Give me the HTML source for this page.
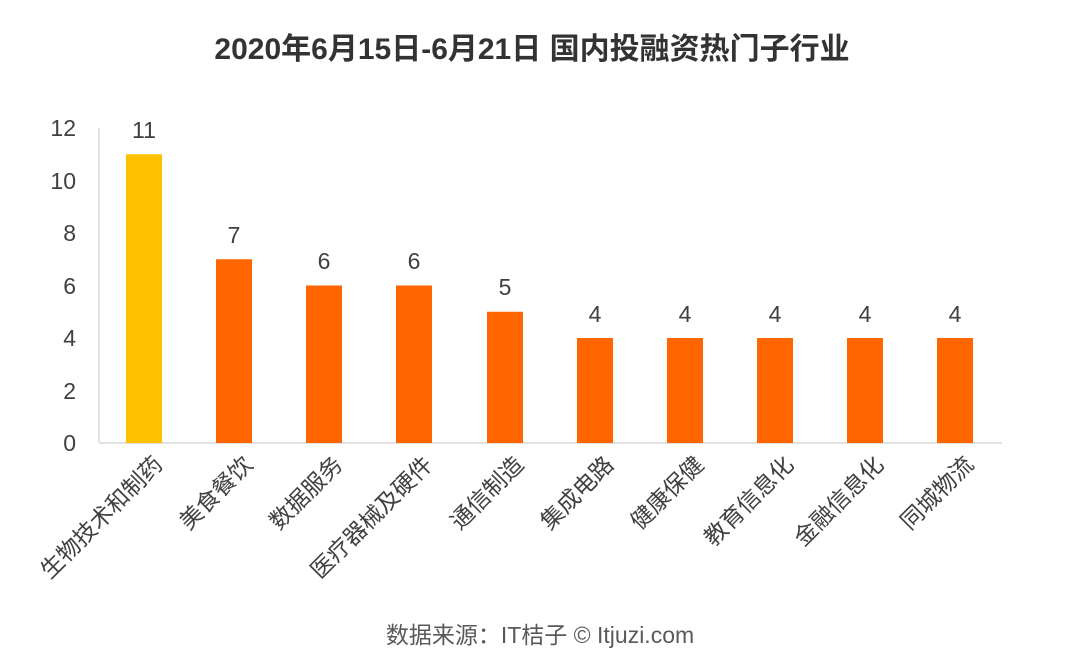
<!DOCTYPE html><html><head><meta charset="utf-8"><style>
body{margin:0;background:#fff}
svg text{font-family:"Liberation Sans","Noto Sans CJK SC",sans-serif}
</style></head><body>
<svg width="1080" height="659" viewBox="0 0 1080 659" xmlns="http://www.w3.org/2000/svg">
<rect width="1080" height="659" fill="#fff"/>
<text x="532" y="59" text-anchor="middle" font-size="30" font-weight="bold" fill="#333">2020年6月15日-6月21日 国内投融资热门子行业</text>
<line x1="99" y1="128" x2="99" y2="443" stroke="#d9d9d9" stroke-width="1.5"/>
<line x1="99" y1="443" x2="1002" y2="443" stroke="#d9d9d9" stroke-width="1.5"/>
<g font-size="23" fill="#404040" text-anchor="end">
<text x="76" y="451">0</text><text x="76" y="399">2</text><text x="76" y="346">4</text><text x="76" y="294">6</text><text x="76" y="241">8</text><text x="76" y="189">10</text><text x="76" y="136">12</text>
</g>
<rect x="126" y="154.25" width="36" height="288.75" fill="#ffc000"/>
<g fill="#ff6600">
<rect x="216" y="259.25" width="36" height="183.75"/>
<rect x="306" y="285.5" width="36" height="157.5"/>
<rect x="396" y="285.5" width="36" height="157.5"/>
<rect x="487" y="311.75" width="36" height="131.25"/>
<rect x="577" y="338" width="36" height="105"/>
<rect x="667" y="338" width="36" height="105"/>
<rect x="757" y="338" width="36" height="105"/>
<rect x="847" y="338" width="36" height="105"/>
<rect x="937" y="338" width="36" height="105"/>
</g>
<g font-size="23" fill="#404040" text-anchor="middle">
<text x="144" y="138">11</text><text x="234" y="243">7</text><text x="324" y="269">6</text><text x="414" y="269">6</text><text x="505" y="295">5</text><text x="595" y="322">4</text><text x="685" y="322">4</text><text x="775" y="322">4</text><text x="865" y="322">4</text><text x="955" y="322">4</text>
</g>
<g font-size="23" fill="#404040" text-anchor="end">
<text transform="translate(164,466) rotate(-45)">生物技术和制药</text>
<text transform="translate(254,466) rotate(-45)">美食餐饮</text>
<text transform="translate(344,466) rotate(-45)">数据服务</text>
<text transform="translate(434,466) rotate(-45)">医疗器械及硬件</text>
<text transform="translate(525,466) rotate(-45)">通信制造</text>
<text transform="translate(615,466) rotate(-45)">集成电路</text>
<text transform="translate(705,466) rotate(-45)">健康保健</text>
<text transform="translate(795,466) rotate(-45)">教育信息化</text>
<text transform="translate(885,466) rotate(-45)">金融信息化</text>
<text transform="translate(975,466) rotate(-45)">同城物流</text>
</g>
<text x="540" y="643" text-anchor="middle" font-size="23" fill="#595959">数据来源：IT桔子 © Itjuzi.com</text>
</svg>
</body></html>
